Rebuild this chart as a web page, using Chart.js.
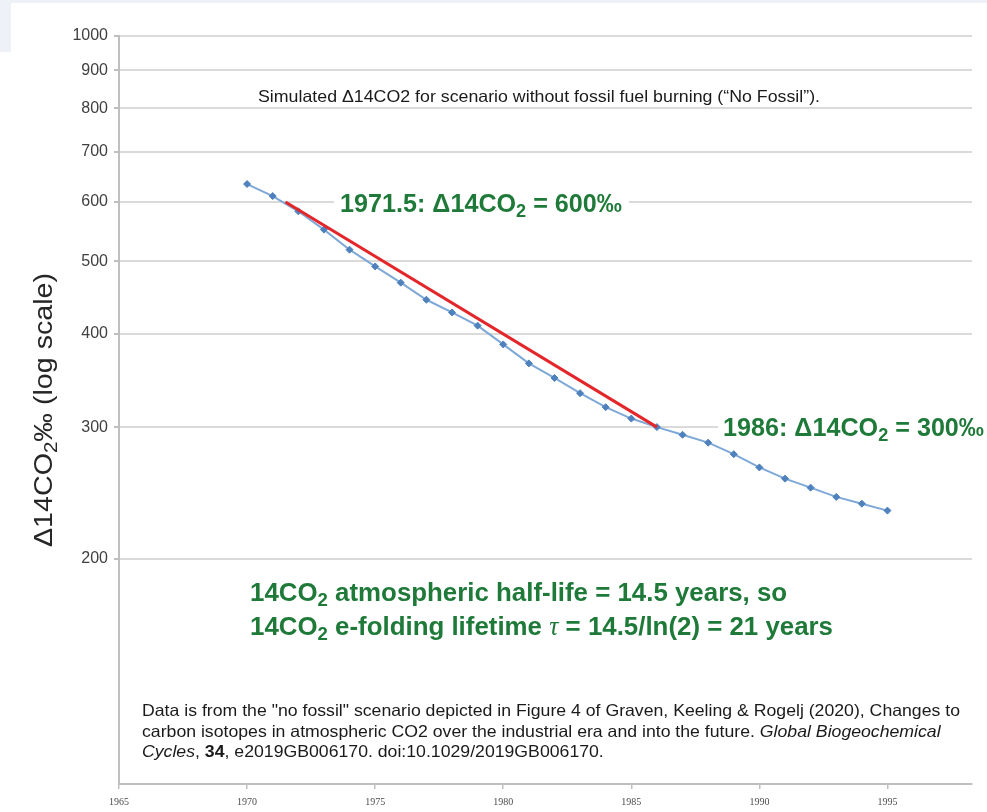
<!DOCTYPE html>
<html>
<head>
<meta charset="utf-8">
<script src="https://cdn.jsdelivr.net/npm/chart.js@4/dist/chart.umd.min.js"></script>
<style>
  html, body { margin: 0; padding: 0; background: #ffffff; }
  #wrap { width: 987px; height: 812px; position: relative; }
</style>
</head>
<body>
<div id="wrap"><canvas id="c" width="987" height="812"></canvas></div>
<script>
// ---------- data ----------
const years = [1970, 1971, 1972, 1973, 1974, 1975, 1976, 1977, 1978, 1979, 1980, 1981, 1982,
               1983, 1984, 1985, 1986, 1987, 1988, 1989, 1990, 1991, 1992, 1993, 1994, 1995];
const noFossil = [634, 611, 583, 551, 518, 492, 468, 444, 427, 410, 387, 365, 349,
                  333, 319, 308, 300, 293, 286, 276, 265, 256, 249, 242, 237, 232];
const fitYears = [1971.5, 1986];
const fitValues = [600, 300];
const yTickValues = [200, 300, 400, 500, 600, 700, 800, 900, 1000];
const xTickValues = [1965, 1970, 1975, 1980, 1985, 1990, 1995];

const SANS = "'Liberation Sans', Arial, sans-serif";
const GREEN = '#1f7a3a';

// ---------- rich text helpers ----------
function fontFor(run, size, family) {
  const s = run.sub ? size * 0.72 : size;
  return (run.italic ? 'italic ' : '') + (run.bold ? 'bold ' : '') + s.toFixed(2) + 'px ' + (run.family || family);
}
function richWidth(ctx, runs, size, family) {
  let w = 0;
  runs.forEach(r => { ctx.font = fontFor(r, size, family); w += ctx.measureText(r.text).width; });
  return w;
}
function drawRich(ctx, runs, x, y, size, family, color) {
  ctx.fillStyle = color;
  ctx.textBaseline = 'alphabetic';
  ctx.textAlign = 'left';
  let cx = x;
  runs.forEach(r => {
    ctx.font = fontFor(r, size, family);
    ctx.fillText(r.text, cx, y + (r.sub ? size * 0.2 : 0));
    cx += ctx.measureText(r.text).width;
  });
  return cx - x;
}
// draw at a given font size, condensed horizontally by factor k
function drawCondensed(ctx, runs, x, y, size, k, family, color) {
  ctx.save();
  ctx.translate(x, y);
  ctx.scale(k, 1);
  drawRich(ctx, runs, 0, 0, size, family, color);
  ctx.restore();
}
function factorFor(ctx, runs, size, target, family) {
  return target / richWidth(ctx, runs, size, family);
}

// ---------- texts ----------
const titleRuns = [{text: 'Simulated \u039414CO2 for scenario without fossil fuel burning (\u201CNo Fossil\u201D).'}];
const ann600 = [{text: '1971.5: \u039414CO', bold: true}, {text: '2', bold: true, sub: true}, {text: ' = 600\u2030', bold: true}];
const ann300 = [{text: '1986: \u039414CO', bold: true}, {text: '2', bold: true, sub: true}, {text: ' = 300\u2030', bold: true}];
const half1 = [{text: '14CO', bold: true}, {text: '2', bold: true, sub: true}, {text: ' atmospheric half-life = 14.5 years, so', bold: true}];
const half2 = [{text: '14CO', bold: true}, {text: '2', bold: true, sub: true}, {text: ' e-folding lifetime ', bold: true},
               {text: '\u03C4', italic: true, family: "'Liberation Serif', serif"}, {text: ' = 14.5/ln(2) = 21 years', bold: true}];
const cite1 = [{text: 'Data is from the "no fossil" scenario depicted in Figure 4 of Graven, Keeling & Rogelj (2020), Changes to'}];
const cite2 = [{text: 'carbon isotopes in atmospheric CO2 over the industrial era and into the future. '}, {text: 'Global Biogeochemical', italic: true}];
const cite3 = [{text: 'Cycles', italic: true}, {text: ', '}, {text: '34', bold: true}, {text: ', e2019GB006170. doi:10.1029/2019GB006170.'}];
const yTitle = [{text: '\u039414CO'}, {text: '2', sub: true}, {text: '\u2030 (log scale)'}];

const decor = {
  id: 'decor',
  beforeDraw(chart) {
    const ctx = chart.ctx;
    ctx.save();
    ctx.fillStyle = '#ffffff';
    ctx.fillRect(0, 0, chart.width, chart.height);
    ctx.fillStyle = '#eef2f8';
    ctx.fillRect(0, 0, chart.width, 3);
    ctx.fillRect(0, 0, 11, 52);
    ctx.restore();
  },
  beforeDatasetsDraw(chart) {
    const ctx = chart.ctx;
    ctx.save();
    ctx.fillStyle = '#ffffff';
    ctx.fillRect(334, 188, 295, 30);
    ctx.fillRect(718, 412, 280, 32);
    ctx.restore();
  },
  afterDraw(chart) {
    const ctx = chart.ctx;
    ctx.save();
    // title
    let k = factorFor(ctx, titleRuns, 16.5, 562, SANS);
    drawCondensed(ctx, titleRuns, 258, 102, 16.5, k, SANS, '#1a1a1a');
    // annotations
    k = factorFor(ctx, ann600, 25, 282, SANS);
    drawCondensed(ctx, ann600, 340, 212, 25, k, SANS, GREEN);
    drawCondensed(ctx, ann300, 723, 436, 25, k, SANS, GREEN);
    // half-life lines
    k = factorFor(ctx, half2, 26.5, 583, SANS);
    drawCondensed(ctx, half1, 250, 601, 26.5, k, SANS, GREEN);
    drawCondensed(ctx, half2, 250, 635, 26.5, k, SANS, GREEN);
    // citation
    k = factorFor(ctx, cite1, 16.5, 818, SANS);
    drawCondensed(ctx, cite1, 142, 716, 16.5, k, SANS, '#1a1a1a');
    drawCondensed(ctx, cite2, 142, 736.5, 16.5, k, SANS, '#1a1a1a');
    drawCondensed(ctx, cite3, 142, 757, 16.5, k, SANS, '#1a1a1a');
    // y-axis title
    k = factorFor(ctx, yTitle, 26, 274, SANS);
    ctx.translate(52, 410);
    ctx.rotate(-Math.PI / 2);
    drawCondensed(ctx, yTitle, -137, 0, 26, k, SANS, '#262626');
    ctx.restore();
  }
};

const blueData = years.map((y, i) => ({x: y, y: noFossil[i]}));
const redData = fitYears.map((y, i) => ({x: y, y: fitValues[i]}));

new Chart(document.getElementById('c'), {
  type: 'line',
  data: {
    datasets: [
      {
        label: 'Fit', data: redData, borderColor: '#e3262a', borderWidth: 3,
        pointRadius: 0, fill: false, tension: 0, order: 0
      },
      {
        label: 'No Fossil', data: blueData, borderColor: '#7ea8d8', borderWidth: 2,
        pointStyle: 'rectRot', pointRadius: 3.5, pointBackgroundColor: '#4f81bd',
        pointBorderColor: '#4f81bd', pointBorderWidth: 1, fill: false, tension: 0, order: 1
      }
    ]
  },
  options: {
    responsive: false,
    animation: false,
    devicePixelRatio: 1,
    layout: { padding: { top: 36, right: 15, left: 0, bottom: 0 } },
    plugins: { legend: { display: false }, tooltip: { enabled: false } },
    scales: {
      x: {
        type: 'linear', min: 1965, max: 1998.3,
        afterBuildTicks: (sc) => { sc.ticks = xTickValues.map(v => ({value: v})); },
        afterFit: (sc) => { sc.height = 28; },
        grid: { display: true, drawOnChartArea: false, drawTicks: true, tickLength: 5, color: '#bfbfbf', lineWidth: 1.5 },
        border: { display: true, color: '#bfbfbf', width: 2 },
        ticks: { color: '#4d4d4d', padding: 7, maxRotation: 0, autoSkip: false,
                 font: { size: 10, family: "'Liberation Serif', serif" },
                 callback: (v) => String(v) }
      },
      y: {
        type: 'logarithmic', min: 100, max: 1000,
        afterBuildTicks: (sc) => { sc.ticks = yTickValues.map(v => ({value: v})); },
        afterFit: (sc) => { sc.width = 119; },
        grid: { color: '#dadada', lineWidth: 2, drawTicks: true, tickLength: 5, tickColor: '#bfbfbf' },
        border: { display: true, color: '#bfbfbf', width: 2 },
        ticks: { color: '#404040', padding: 6, autoSkip: false,
                 font: { size: 16, family: SANS },
                 callback: (v) => String(v) }
      }
    }
  },
  plugins: [decor]
});
</script>
</body>
</html>
